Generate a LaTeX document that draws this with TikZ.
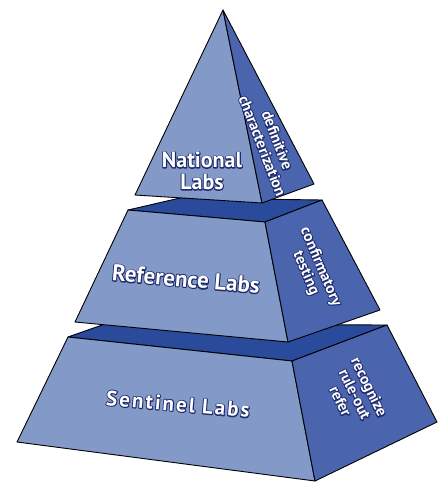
\documentclass[tikz,border=0pt]{standalone}
\usepackage{fontspec}
\setmainfont{PT Sans}
\definecolor{frontc}{HTML}{8399C7}
\definecolor{sidec}{HTML}{4A65AD}
\definecolor{topc}{HTML}{2A4B9C}
\definecolor{inkc}{HTML}{1E2A6E}
\newcommand{\lbl}[1]{\rlap{\special{pdf:literal direct 1 Tr 1.9 w 1 j 0.118 0.165 0.431 RG}#1\special{pdf:literal direct 0 Tr}}#1}
\begin{document}
\begin{tikzpicture}[x=1pt,y=-1pt,
  face/.style={draw=black,line width=0.9pt,line join=round},
  front/.style={face,fill=frontc},
  side/.style={face,fill=sidec},
  topf/.style={face,fill=topc},
  big/.style={text=white,font=\bfseries\fontsize{22}{22}\selectfont,align=center},
  small/.style={text=white,font=\bfseries\fontsize{15.5}{16}\selectfont,align=center}]
\useasboundingbox (0,0) rectangle (444,482);
% bottom tier
\path[topf] (68,337) -- (105,324) -- (387,325) -- (292,361) -- cycle;
\path[front] (68,337) -- (292,361) -- (315,481) -- (17,442) -- cycle;
\path[side] (292,361) -- (387,325) -- (437,422) -- (315,481) -- cycle;
% middle tier
\path[topf] (128,210) -- (180,198) -- (322,200) -- (265,222) -- cycle;
\path[front] (128,210) -- (265,222) -- (288,342) -- (75,322) -- cycle;
\path[side] (265,222) -- (322,200) -- (380,310) -- (288,342) -- cycle;
% top pyramid
\path[front] (223,10) -- (262,203) -- (135,195) -- cycle;
\path[side] (223,10) -- (314,184) -- (262,203) -- cycle;
% labels
\node[big] (nat) at (202,171) {\lbl{National}\\\lbl{Labs}};
\node[big,rotate=-5,font=\bfseries\fontsize{23}{23}\selectfont] (ref) at (186,279) {\lbl{Reference Labs}};
\node[big,rotate=-5,font=\bfseries\fontsize{21}{22}\selectfont\addfontfeature{LetterSpace=10}] (sen) at (178,404) {\lbl{Sentinel\hspace{7pt}Labs}};
\node[small,rotate=-69] (def) at (270,143) {\lbl{definitive}\\\lbl{characterization}};
\node[small,rotate=-67] (conf) at (313,270) {\lbl{confirmatory}\\\lbl{testing}};
\node[small,rotate=-64] (rec) at (355,394) {\lbl{recognize}\\\lbl{rule-out}\\\lbl{refer}};
\end{tikzpicture}
\end{document}
